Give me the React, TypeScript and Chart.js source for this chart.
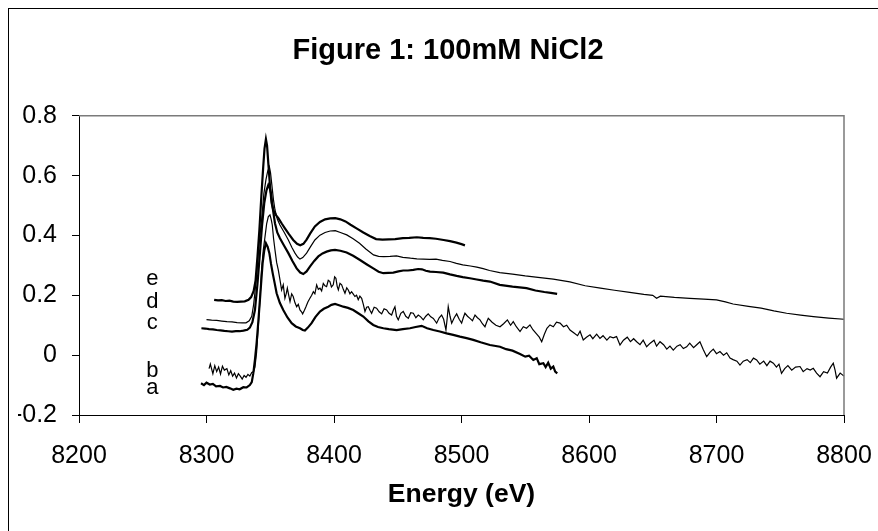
import React, { useEffect, useRef } from 'react';
import { Chart, registerables } from 'chart.js';

Chart.register(...registerables);

const TITLE = 'Figure 1: 100mM NiCl2';
const X_TITLE = 'Energy (eV)';
const X_TICKS = [8200, 8300, 8400, 8500, 8600, 8700, 8800];
const Y_TICKS = [-0.2, 0, 0.2, 0.4, 0.6, 0.8];

const SERIES_NAMES = ['a', 'b', 'c', 'd', 'e'];
const LABEL_ENERGY = 8257.5;
const LABEL_LEVELS = [-0.108, -0.052, 0.107, 0.177, 0.255];

const SERIES_A: [number, number][] = [
  [8295.7,-0.094],[8298,-0.1],[8300,-0.092],[8302.6,-0.098],[8305,-0.096],[8307.5,-0.104],[8310.6,-0.103],[8313,-0.108],[8315.5,-0.106],[8318.4,-0.111],[8321,-0.116],[8323.5,-0.112],[8326,-0.114],[8328.9,-0.107],[8331.5,-0.108],[8334,-0.1],[8335.5,-0.09],[8336.7,-0.061],[8338,-0.015],[8339.3,0.04],[8340.6,0.11],[8341.9,0.185],[8343,0.25],[8344,0.307],[8345.3,0.35],[8346.6,0.374],[8348,0.362],[8349.3,0.341],[8350.6,0.305],[8351.9,0.274],[8353.5,0.24],[8355,0.207],[8357.5,0.175],[8360.2,0.151],[8363.5,0.126],[8366.8,0.107],[8370,0.096],[8373.3,0.09],[8375.5,0.084],[8377.2,0.082],[8379.5,0.092],[8382.4,0.107],[8385.5,0.128],[8389,0.146],[8392,0.155],[8395.5,0.162],[8398,0.168],[8400.8,0.171],[8404,0.167],[8407.3,0.162],[8411,0.158],[8415.1,0.151],[8419,0.14],[8423,0.129],[8427,0.113],[8430.8,0.101],[8434.5,0.094],[8438.7,0.09],[8443,0.087],[8449.1,0.084],[8454,0.087],[8459.6,0.09],[8464,0.094],[8468.7,0.098],[8473,0.09],[8477.9,0.084],[8483,0.079],[8488.3,0.073],[8493.5,0.068],[8498.8,0.062],[8504,0.057],[8509.2,0.051],[8515,0.043],[8522.3,0.034],[8530.2,0.028],[8535,0.02],[8540,0.015],[8545.9,0.004],[8550,-0.005],[8553,-0.002],[8556.3,-0.016],[8559,-0.01],[8561,-0.03],[8564.2,-0.027],[8566,-0.04],[8568,-0.025],[8570,-0.045],[8572,-0.038],[8573.5,-0.055],[8575.1,-0.061]
];

const SERIES_B: [number, number][] = [
  [8302,-0.045],[8303,-0.03],[8305,-0.062],[8306.5,-0.035],[8308,-0.055],[8309.5,-0.04],[8311,-0.063],[8312.5,-0.037],[8314,-0.05],[8316,-0.045],[8317.5,-0.066],[8319,-0.052],[8320.5,-0.07],[8322,-0.06],[8323.5,-0.076],[8325,-0.062],[8326.5,-0.07],[8328,-0.08],[8329.5,-0.068],[8331,-0.074],[8332.5,-0.064],[8334,-0.07],[8335.5,-0.058],[8337,-0.055],[8338,-0.04],[8339.3,0.01],[8340.6,0.095],[8342,0.19],[8343.2,0.285],[8344.5,0.35],[8345.9,0.396],[8347.2,0.44],[8348.5,0.463],[8349.8,0.469],[8350.7,0.455],[8351.6,0.435],[8352.6,0.39],[8353.7,0.352],[8355,0.31],[8356.3,0.285],[8357.5,0.255],[8358.9,0.218],[8360.2,0.235],[8361.5,0.19],[8362.5,0.205],[8363.4,0.224],[8364.5,0.2],[8365.5,0.179],[8366.8,0.205],[8368,0.196],[8369.4,0.175],[8370.7,0.162],[8372,0.17],[8373.3,0.151],[8374.5,0.145],[8375.4,0.138],[8376.8,0.15],[8378,0.162],[8379.5,0.178],[8381.1,0.19],[8382.5,0.2],[8383.8,0.212],[8385,0.205],[8386.4,0.235],[8387.7,0.22],[8389,0.224],[8390.3,0.215],[8391.6,0.24],[8392.9,0.232],[8394.2,0.229],[8395.5,0.25],[8396.8,0.246],[8398,0.228],[8399.4,0.235],[8400.5,0.262],[8401.5,0.257],[8402.5,0.23],[8403.4,0.218],[8404.7,0.24],[8406,0.235],[8407.3,0.22],[8408.6,0.207],[8410,0.225],[8411.2,0.218],[8412.5,0.205],[8413.8,0.212],[8415,0.205],[8416.4,0.196],[8417.7,0.2],[8419,0.185],[8420.3,0.197],[8421.7,0.19],[8423,0.17],[8424.3,0.146],[8425.6,0.16],[8426.9,0.162],[8428.2,0.15],[8429.5,0.14],[8431.5,0.16],[8433.4,0.157],[8435.4,0.145],[8437.4,0.138],[8439.3,0.155],[8441.3,0.151],[8443.2,0.14],[8445.2,0.134],[8446.5,0.15],[8447.8,0.162],[8449,0.13],[8450.4,0.118],[8452.4,0.14],[8454.3,0.146],[8456.3,0.13],[8458.3,0.123],[8460.2,0.142],[8462.2,0.14],[8464.2,0.125],[8466.1,0.134],[8468,0.128],[8470,0.118],[8472,0.13],[8473.9,0.138],[8475.9,0.128],[8477.9,0.123],[8479.2,0.115],[8480.5,0.107],[8482.5,0.125],[8484.4,0.134],[8486,0.12],[8487.8,0.084],[8488.7,0.12],[8489.6,0.162],[8491,0.13],[8492.3,0.107],[8494.3,0.125],[8496.2,0.138],[8498.2,0.12],[8500.1,0.107],[8501.4,0.125],[8502.7,0.14],[8504.7,0.13],[8506.6,0.123],[8508.6,0.115],[8510.6,0.134],[8512.5,0.125],[8514.5,0.118],[8516.4,0.105],[8518.4,0.095],[8519.7,0.11],[8521,0.123],[8524,0.11],[8527,0.1],[8530.2,0.095],[8533,0.105],[8536,0.118],[8538.5,0.1],[8540.6,0.112],[8543,0.095],[8545.9,0.079],[8548.5,0.095],[8551,0.09],[8553.7,0.101],[8556,0.085],[8559,0.07],[8561,0.06],[8562.9,0.045],[8565,0.07],[8567,0.09],[8569.4,0.101],[8572,0.095],[8574.5,0.11],[8577.3,0.107],[8580,0.095],[8582.5,0.1],[8585.1,0.084],[8588,0.075],[8591,0.065],[8593,0.08],[8595.5,0.051],[8598,0.06],[8600.8,0.068],[8603,0.055],[8606,0.07],[8608.6,0.056],[8611,0.065],[8614,0.05],[8616.5,0.062],[8619,0.058],[8621.6,0.062],[8624.3,0.034],[8627,0.05],[8630,0.06],[8632.5,0.045],[8635,0.055],[8637.4,0.045],[8640,0.035],[8642.5,0.05],[8645.2,0.028],[8648,0.04],[8651,0.05],[8653,0.03],[8655.7,0.045],[8658.5,0.035],[8661,0.02],[8663.5,0.03],[8666.1,0.017],[8669,0.03],[8671.5,0.035],[8674,0.022],[8676.6,0.028],[8679,0.04],[8682,0.025],[8684.5,0.035],[8687,0.045],[8689.5,0.02],[8692.3,-0.005],[8695,0.01],[8697.5,0.02],[8700,0.005],[8702.7,0.012],[8705.5,0.0],[8708,0.008],[8710.6,-0.01],[8713,-0.015],[8716,-0.02],[8718.4,-0.033],[8721,-0.02],[8724,-0.015],[8726.5,-0.025],[8729,-0.01],[8731.5,-0.016],[8734,-0.03],[8737,-0.02],[8739.5,-0.035],[8742,-0.02],[8744.6,-0.027],[8747,-0.04],[8749,-0.03],[8751,-0.061],[8753.5,-0.045],[8756,-0.035],[8759,-0.05],[8762,-0.04],[8765.5,-0.038],[8768,-0.055],[8771,-0.045],[8773.5,-0.05],[8775.9,-0.044],[8778.5,-0.06],[8781.2,-0.072],[8784,-0.055],[8787,-0.06],[8789.5,-0.04],[8791.6,-0.027],[8793,-0.05],[8794.2,-0.077],[8797,-0.06],[8800,-0.07],[8802,-0.058],[8804.7,-0.066],[8807,-0.078],[8810,-0.065],[8813,-0.075],[8816.5,-0.089],[8819,-0.075],[8822,-0.08],[8825.6,-0.066],[8828,-0.06]
];

const SERIES_C: [number, number][] = [
  [8296,0.09],[8299,0.089],[8302,0.087],[8305,0.086],[8308,0.084],[8311,0.083],[8314,0.081],[8317,0.08],[8320,0.079],[8323,0.08],[8326,0.08],[8329,0.082],[8332,0.085],[8334,0.092],[8336,0.11],[8338,0.151],[8340,0.24],[8341.9,0.341],[8343.5,0.43],[8345.3,0.508],[8347,0.55],[8348.5,0.569],[8349.5,0.56],[8350.6,0.541],[8352,0.49],[8353.7,0.441],[8355.5,0.41],[8357.6,0.391],[8361,0.365],[8364.2,0.341],[8367.5,0.314],[8370.7,0.29],[8373.5,0.276],[8375.9,0.271],[8378.5,0.28],[8381.1,0.296],[8384.5,0.315],[8387.7,0.33],[8391,0.34],[8394.2,0.346],[8397.5,0.35],[8400.8,0.352],[8405,0.349],[8409.9,0.343],[8415,0.332],[8420.4,0.318],[8425.5,0.304],[8430.8,0.29],[8435,0.279],[8438.7,0.274],[8442.5,0.275],[8446.5,0.276],[8450.5,0.28],[8454.3,0.283],[8458,0.283],[8462.2,0.285],[8466,0.288],[8469,0.287],[8472,0.282],[8475.3,0.279],[8480,0.278],[8485.7,0.276],[8491,0.27],[8496.2,0.265],[8501,0.261],[8506.6,0.257],[8512,0.253],[8517,0.249],[8522.3,0.246],[8530,0.235],[8540,0.229],[8551,0.224],[8558,0.216],[8565,0.211],[8570,0.208],[8575,0.205]
];

const SERIES_D: [number, number][] = [
  [8300,0.119],[8304,0.117],[8308,0.116],[8312,0.114],[8316,0.112],[8320,0.111],[8324,0.109],[8328,0.108],[8331,0.108],[8333.5,0.115],[8335.5,0.13],[8337,0.17],[8339.3,0.263],[8341,0.36],[8343.2,0.452],[8345,0.54],[8346.6,0.586],[8348,0.615],[8349.3,0.63],[8350.2,0.61],[8351.1,0.575],[8352.5,0.52],[8353.7,0.486],[8355.5,0.455],[8357.6,0.435],[8361,0.41],[8364.2,0.385],[8367,0.36],[8369.4,0.341],[8371.5,0.328],[8373.3,0.321],[8375.5,0.326],[8378.5,0.341],[8381.5,0.362],[8385,0.385],[8389,0.401],[8393,0.41],[8397,0.415],[8401,0.416],[8405,0.41],[8410,0.402],[8415,0.389],[8420,0.374],[8425,0.355],[8431,0.335],[8435,0.33],[8439,0.329],[8444,0.33],[8449,0.332],[8454,0.327],[8460,0.324],[8465,0.322],[8470,0.321],[8475,0.32],[8480,0.321],[8485,0.317],[8491,0.313],[8496,0.307],[8501,0.302],[8507,0.298],[8512,0.294],[8517,0.289],[8522,0.283],[8530,0.276],[8540,0.271],[8550,0.265],[8560,0.26],[8572,0.254],[8585,0.245],[8597,0.232],[8609,0.224],[8620,0.217],[8632,0.21],[8643,0.203],[8650,0.2],[8653,0.19],[8656,0.197],[8667,0.193],[8679,0.19],[8690,0.187],[8700,0.185],[8707,0.178],[8713,0.171],[8725,0.163],[8735,0.157],[8745,0.148],[8755,0.14],[8766,0.134],[8776,0.129],[8788,0.124],[8800,0.12],[8812,0.114],[8820,0.109],[8826,0.107]
];

const SERIES_E: [number, number][] = [
  [8306,0.185],[8309,0.183],[8312,0.184],[8315,0.181],[8318,0.182],[8321,0.179],[8324,0.178],[8327,0.179],[8330,0.18],[8333,0.185],[8335,0.194],[8337,0.215],[8338.5,0.25],[8340,0.33],[8341.5,0.42],[8343,0.53],[8344.5,0.63],[8345.5,0.69],[8346.6,0.722],[8347.5,0.7],[8348.5,0.64],[8349.8,0.565],[8351,0.51],[8352.5,0.484],[8354.5,0.468],[8356.5,0.457],[8359,0.44],[8361.5,0.424],[8364.5,0.405],[8368,0.385],[8371,0.372],[8373.5,0.367],[8376,0.372],[8378.5,0.386],[8381.5,0.408],[8385,0.43],[8389,0.445],[8393,0.454],[8397,0.457],[8401,0.458],[8405,0.454],[8409,0.447],[8413,0.436],[8418,0.423],[8423,0.41],[8428,0.398],[8433,0.388],[8438,0.386],[8443,0.387],[8448,0.388],[8454,0.391],[8459,0.392],[8465,0.394],[8470,0.392],[8475,0.391],[8480,0.389],[8486,0.385],[8491,0.381],[8496,0.376],[8500,0.371],[8502.7,0.367]
];

const SERIES_DATA = [SERIES_A, SERIES_B, SERIES_C, SERIES_D, SERIES_E];
const SERIES_WIDTHS = [2.2, 1.2, 2.2, 1.2, 2.2];

const FONT = '"Liberation Sans", Arial, Helvetica, sans-serif';

const framePlugin = {
  id: 'frameAndLabels',
  afterDatasetsDraw(chart: any) {
    const { ctx, chartArea, scales } = chart;
    const { left, right, top, bottom } = chartArea;
    ctx.save();
    ctx.strokeStyle = '#7a7a7a';
    ctx.lineWidth = 1.5;
    ctx.beginPath();
    ctx.moveTo(left, top);
    ctx.lineTo(right, top);
    ctx.lineTo(right, bottom);
    ctx.stroke();
    ctx.fillStyle = '#000';
    ctx.font = '22px ' + FONT;
    ctx.textAlign = 'center';
    ctx.textBaseline = 'middle';
    SERIES_NAMES.forEach((n, i) => {
      ctx.fillText(n, scales.x.getPixelForValue(LABEL_ENERGY), scales.y.getPixelForValue(LABEL_LEVELS[i]));
    });
    ctx.restore();
  },
};

export default function App() {
  const ref = useRef<HTMLCanvasElement | null>(null);
  useEffect(() => {
    if (!ref.current) return;
    const chart = new Chart(ref.current, {
      type: 'line',
      data: {
        datasets: SERIES_DATA.map((s, i) => ({
          label: SERIES_NAMES[i],
          data: s.map(([x, y]) => ({ x, y })),
          borderColor: '#000',
          borderWidth: SERIES_WIDTHS[i],
          pointRadius: 0,
          tension: 0,
          fill: false,
          clip: false as any,
        })),
      },
      options: {
        animation: false,
        responsive: false,
        maintainAspectRatio: false,
        events: [],
        layout: { padding: { left: 9, right: 0, top: 0, bottom: 0 } },
        plugins: {
          legend: { display: false },
          tooltip: { enabled: false },
          title: {
            display: true,
            text: TITLE,
            color: '#000',
            font: { family: FONT, size: 29, weight: 'bold' },
            padding: { top: 25, bottom: 47 },
          },
        },
        scales: {
          x: {
            type: 'linear',
            min: 8200,
            max: 8800,
            afterBuildTicks: (s: any) => { s.ticks = X_TICKS.map((v) => ({ value: v })); },
            afterFit: (s: any) => { s.height = 116; s.paddingLeft = 0; s.paddingRight = 34; },
            ticks: {
              color: '#000',
              font: { family: FONT, size: 25 },
              padding: 18,
              maxRotation: 0,
              autoSkip: false,
              callback: (v: any) => String(v),
            },
            grid: { drawOnChartArea: false, drawTicks: true, tickLength: 8, color: '#000', lineWidth: 1 },
            border: { display: true, color: '#000', width: 1 },
            title: {
              display: true,
              text: X_TITLE,
              color: '#000',
              font: { family: FONT, size: 26.5, weight: 'bold' },
              padding: { top: 0, bottom: 20 },
            },
          },
          y: {
            type: 'linear',
            min: -0.2,
            max: 0.8,
            afterBuildTicks: (s: any) => { s.ticks = Y_TICKS.map((v) => ({ value: v })); },
            afterFit: (s: any) => { s.width = 61; },
            ticks: {
              color: '#000',
              font: { family: FONT, size: 25 },
              padding: 15,
              autoSkip: false,
              callback: (v: any) => String(Math.round(v * 10) / 10),
            },
            grid: { drawOnChartArea: false, drawTicks: true, tickLength: 7, color: '#000', lineWidth: 1 },
            border: { display: true, color: '#000', width: 1 },
          },
        },
      },
      plugins: [framePlugin],
    });
    return () => chart.destroy();
  }, []);

  return (
    <div
      style={{
        position: 'fixed',
        left: 8,
        top: 8,
        width: 870,
        height: 523,
        borderLeft: '1px solid #000',
        borderTop: '1px solid #000',
        boxSizing: 'border-box',
        background: '#fff',
      }}
    >
      <canvas ref={ref} width={869} height={522} style={{ display: 'block' }} />
    </div>
  );
}
